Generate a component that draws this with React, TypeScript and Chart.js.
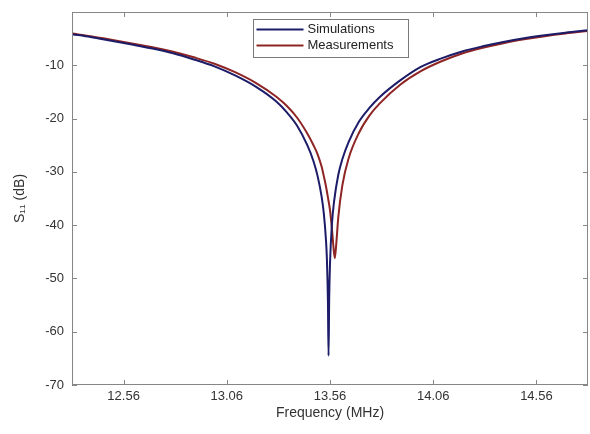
import React, { useEffect, useRef } from "react";
import { Chart, registerables } from "chart.js";

Chart.register(...registerables);

const seriesLabels = ["Simulations", "Measurements"];
const seriesColors = ["#1c1c68", "#8e2424"];

const simFreq = [
  12.31, 12.4, 12.5, 12.6, 12.7, 12.8, 12.9, 13.0, 13.1, 13.2, 13.3, 13.35, 13.4,
  13.45, 13.48, 13.5, 13.52, 13.53, 13.54, 13.545, 13.55, 13.553, 13.556, 13.56,
  13.57, 13.58, 13.6, 13.62, 13.65, 13.7, 13.75, 13.8, 13.9, 14.0, 14.1, 14.2,
  14.3, 14.4, 14.5, 14.6, 14.7, 14.81,
];
const simS11 = [
  -4.15, -4.7, -5.4, -6.1, -6.85, -7.75, -8.9, -10.2, -11.9, -14.0, -16.8, -18.8,
  -21.3, -25.0, -28.0, -30.8, -34.8, -37.8, -42.5, -46.4, -54.4, -64.5, -54.0,
  -47.2, -39.5, -35.5, -30.6, -27.6, -24.4, -20.6, -18.05, -16.0, -12.84, -10.3,
  -8.7, -7.4, -6.44, -5.63, -4.94, -4.37, -3.88, -3.43,
];

const measFreq = [
  12.31, 12.4, 12.5, 12.6, 12.7, 12.8, 12.9, 13.0, 13.1, 13.2, 13.3, 13.35, 13.4,
  13.45, 13.48, 13.5, 13.52, 13.53, 13.54, 13.55, 13.56, 13.57, 13.575, 13.583,
  13.59, 13.6, 13.62, 13.65, 13.7, 13.75, 13.8, 13.9, 14.0, 14.1, 14.2, 14.3,
  14.4, 14.5, 14.6, 14.7, 14.81,
];
const measS11 = [
  -4.05, -4.55, -5.2, -5.9, -6.6, -7.45, -8.5, -9.7, -11.3, -13.3, -15.9, -17.6,
  -19.8, -22.8, -25.0, -26.7, -29.1, -30.8, -32.6, -34.8, -37.2, -41.0, -43.3,
  -46.2, -43.7, -38.6, -32.5, -27.5, -22.7, -19.5, -17.2, -13.65, -11.1, -9.25,
  -7.78, -6.72, -5.85, -5.14, -4.53, -4.02, -3.55,
];

const xTicks = [12.56, 13.06, 13.56, 14.06, 14.56];
const yTicks = [-70, -60, -50, -40, -30, -20, -10];
const xRange = [12.31, 14.81];
const yRange = [-70, 0];

const FONT = "'Liberation Sans', Arial, Helvetica, sans-serif";

const framePlugin = {
  id: "frame",
  afterDatasetsDraw(chart: any) {
    const { ctx, chartArea: a, scales } = chart;
    ctx.save();
    ctx.strokeStyle = "#868686";
    ctx.lineWidth = 1;
    ctx.strokeRect(a.left + 0.5, a.top + 0.5, a.right - a.left - 1, a.bottom - a.top - 1);
    ctx.beginPath();
    const tl = 5;
    for (const t of scales.x.ticks) {
      const px = Math.round(scales.x.getPixelForValue(t.value)) + 0.5;
      ctx.moveTo(px, a.bottom);
      ctx.lineTo(px, a.bottom - tl);
      ctx.moveTo(px, a.top);
      ctx.lineTo(px, a.top + tl);
    }
    for (const t of scales.y.ticks) {
      const py = Math.round(scales.y.getPixelForValue(t.value)) + 0.5;
      ctx.moveTo(a.left, py);
      ctx.lineTo(a.left + tl, py);
      ctx.moveTo(a.right, py);
      ctx.lineTo(a.right - tl, py);
    }
    ctx.stroke();

    // legend box
    const w = 155;
    const h = 38;
    const lx = Math.round((a.left + a.right) / 2 - w / 2) + 0.5;
    const ly = a.top + 7.5;
    ctx.fillStyle = "#ffffff";
    ctx.fillRect(lx, ly, w, h);
    ctx.strokeStyle = "#7a7a7a";
    ctx.strokeRect(lx, ly, w, h);
    ctx.font = `13px ${FONT}`;
    ctx.textBaseline = "middle";
    ctx.textAlign = "left";
    chart.data.datasets.forEach((ds: any, i: number) => {
      const yy = ly + 10 + i * 16;
      ctx.strokeStyle = ds.borderColor;
      ctx.lineWidth = 2;
      ctx.beginPath();
      ctx.moveTo(lx + 3, yy);
      ctx.lineTo(lx + 50, yy);
      ctx.stroke();
      ctx.fillStyle = "#222";
      ctx.fillText(ds.label, lx + 54, yy);
    });
    ctx.restore();
  },
};

export default function App() {
  const ref = useRef<HTMLCanvasElement>(null);
  useEffect(() => {
    const chart = new Chart(ref.current as HTMLCanvasElement, {
      type: "line",
      data: {
        datasets: [
          {
            label: seriesLabels[0],
            data: simFreq.map((f, i) => ({ x: f, y: simS11[i] })),
            borderColor: seriesColors[0],
            borderWidth: 2,
            pointRadius: 0,
            borderJoinStyle: "round",
            cubicInterpolationMode: "monotone",
          },
          {
            label: seriesLabels[1],
            data: measFreq.map((f, i) => ({ x: f, y: measS11[i] })),
            borderColor: seriesColors[1],
            borderWidth: 2,
            pointRadius: 0,
            borderJoinStyle: "round",
            cubicInterpolationMode: "monotone",
          },
        ],
      },
      options: {
        animation: false,
        responsive: false,
        devicePixelRatio: 1,
        layout: { padding: { top: 12, right: 2, left: 0, bottom: 0 } },
        plugins: { legend: { display: false }, tooltip: { enabled: false } },
        scales: {
          x: {
            type: "linear",
            min: xRange[0],
            max: xRange[1],
            afterBuildTicks: (s: any) => {
              s.ticks = xTicks.map((v) => ({ value: v }));
            },
            afterFit: (s: any) => {
              s.height = 49;
              s.paddingLeft = 0;
              s.paddingRight = 0;
            },
            grid: { display: false, drawTicks: false },
            border: { display: false },
            ticks: {
              padding: 4,
              color: "#333",
              font: { family: FONT, size: 13 },
              maxRotation: 0,
              callback: (v: any) => Number(v).toFixed(2),
            },
            title: {
              display: true,
              text: "Frequency (MHz)",
              color: "#333",
              font: { family: FONT, size: 14 },
              padding: { top: 0, bottom: 12 },
            },
          },
          y: {
            type: "linear",
            min: yRange[0],
            max: yRange[1],
            afterBuildTicks: (s: any) => {
              s.ticks = yTicks.map((v) => ({ value: v }));
            },
            afterFit: (s: any) => {
              s.width = 72;
              s.paddingTop = 0;
              s.paddingBottom = 0;
            },
            grid: { display: false, drawTicks: false },
            border: { display: false },
            ticks: {
              padding: 8,
              color: "#333",
              font: { family: FONT, size: 13 },
            },
            title: {
              display: true,
              text: "S₁₁ (dB)",
              color: "#333",
              font: { family: FONT, size: 14 },
              padding: { top: 12, bottom: 0 },
            },
          },
        },
      },
      plugins: [framePlugin],
    } as any);
    return () => chart.destroy();
  }, []);
  return (
    <div style={{ position: "absolute", left: 0, top: 0, width: 590, height: 434, background: "#fff" }}>
      <canvas ref={ref} width={590} height={434} style={{ width: 590, height: 434, display: "block" }} />
    </div>
  );
}
